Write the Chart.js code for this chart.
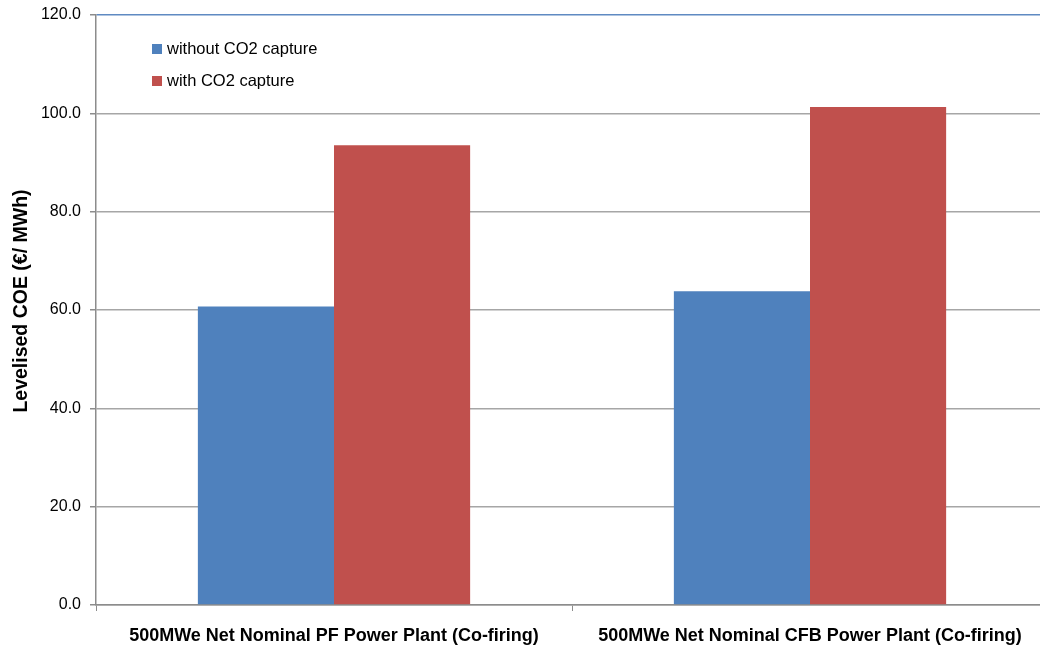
<!DOCTYPE html>
<html>
<head>
<meta charset="utf-8">
<script src="https://cdn.jsdelivr.net/npm/chart.js@4/dist/chart.umd.min.js"></script>
<style>
  html, body { margin: 0; padding: 0; background: #ffffff; overflow: hidden; }
  #wrap { width: 1040px; height: 651px; position: relative; overflow: hidden; }
  #c { position: absolute; left: 0; top: 0; }
</style>
</head>
<body>
<div id="wrap"><canvas id="c" width="1048" height="651"></canvas></div>
<script>
// Levelised cost of electricity, €/MWh
const categories = [
  '500MWe Net Nominal PF Power Plant (Co-firing)',
  '500MWe Net Nominal CFB Power Plant (Co-firing)'
];
const withoutCapture = [60.7, 63.8];
const withCapture = [93.5, 101.3];
const seriesNames = ['without CO2 capture', 'with CO2 capture'];
const yTicks = [0, 20, 40, 60, 80, 100, 120];
const yTitle = 'Levelised COE (€/ MWh)';

const BLUE = '#4F81BD';
const RED = '#C0504D';

// Legend drawn inside the plot area, top-left
const innerLegend = {
  id: 'innerLegend',
  afterDraw(chart) {
    const ctx = chart.ctx;
    const area = chart.chartArea;
    ctx.save();
    ctx.font = '16.5px "Liberation Sans", Arial, sans-serif';
    ctx.textBaseline = 'middle';
    chart.data.datasets.forEach((ds, i) => {
      const x = area.left + 56;
      const y = area.top + 34 + i * 32;
      ctx.fillStyle = ds.backgroundColor;
      ctx.fillRect(x, y - 5, 10, 10);
      ctx.fillStyle = '#000000';
      ctx.fillText(ds.label, x + 15, y);
    });
    ctx.restore();
  }
};

// Rotated value-axis title
const axisTitle = {
  id: 'axisTitle',
  afterDraw(chart) {
    const ctx = chart.ctx;
    ctx.save();
    ctx.translate(22, 301);
    ctx.rotate(-Math.PI / 2);
    ctx.font = 'bold 19.5px "Liberation Sans", Arial, sans-serif';
    ctx.textAlign = 'center';
    ctx.textBaseline = 'middle';
    ctx.fillStyle = '#000000';
    ctx.fillText(yTitle, 0, 0);
    ctx.restore();
  }
};

new Chart(document.getElementById('c'), {
  type: 'bar',
  data: {
    labels: categories,
    datasets: [
      { label: seriesNames[0], data: withoutCapture, backgroundColor: BLUE,
        borderWidth: 0, barPercentage: 1, categoryPercentage: 0.572 },
      { label: seriesNames[1], data: withCapture, backgroundColor: RED,
        borderWidth: 0, barPercentage: 1, categoryPercentage: 0.572 }
    ]
  },
  options: {
    responsive: false,
    animation: false,
    layout: { padding: { top: 0, right: 0, left: 0, bottom: 0 } },
    plugins: {
      legend: { display: false },
      tooltip: { enabled: false }
    },
    scales: {
      x: {
        afterFit(scale) { scale.height = 46; },
        grid: {
          drawOnChartArea: false,
          drawTicks: true,
          tickLength: 6,
          color: '#8c8c8c',
          lineWidth: 1
        },
        border: { display: true, color: '#8c8c8c', width: 1.5 },
        ticks: {
          color: '#000000',
          padding: 14,
          maxRotation: 0,
          font: { family: '"Liberation Sans", Arial, sans-serif', size: 18, weight: 'bold' }
        }
      },
      y: {
        min: 0,
        max: 120,
        afterFit(scale) { scale.width = 96; scale.paddingTop = 15; },
        afterBuildTicks(scale) { scale.ticks = yTicks.map(v => ({ value: v })); },
        grid: {
          color: ctx => (ctx.tick && ctx.tick.value === 120 ? '#5f8ac2' : '#a6a6a6'),
          lineWidth: 1.5,
          tickLength: 6,
          tickColor: '#8c8c8c'
        },
        border: { display: true, color: '#8c8c8c', width: 1.5 },
        ticks: {
          color: '#000000',
          padding: 9,
          font: { family: '"Liberation Sans", Arial, sans-serif', size: 16 },
          callback: v => Number(v).toFixed(1)
        },
        title: { display: false }
      }
    }
  },
  plugins: [innerLegend, axisTitle]
});
</script>
</body>
</html>
